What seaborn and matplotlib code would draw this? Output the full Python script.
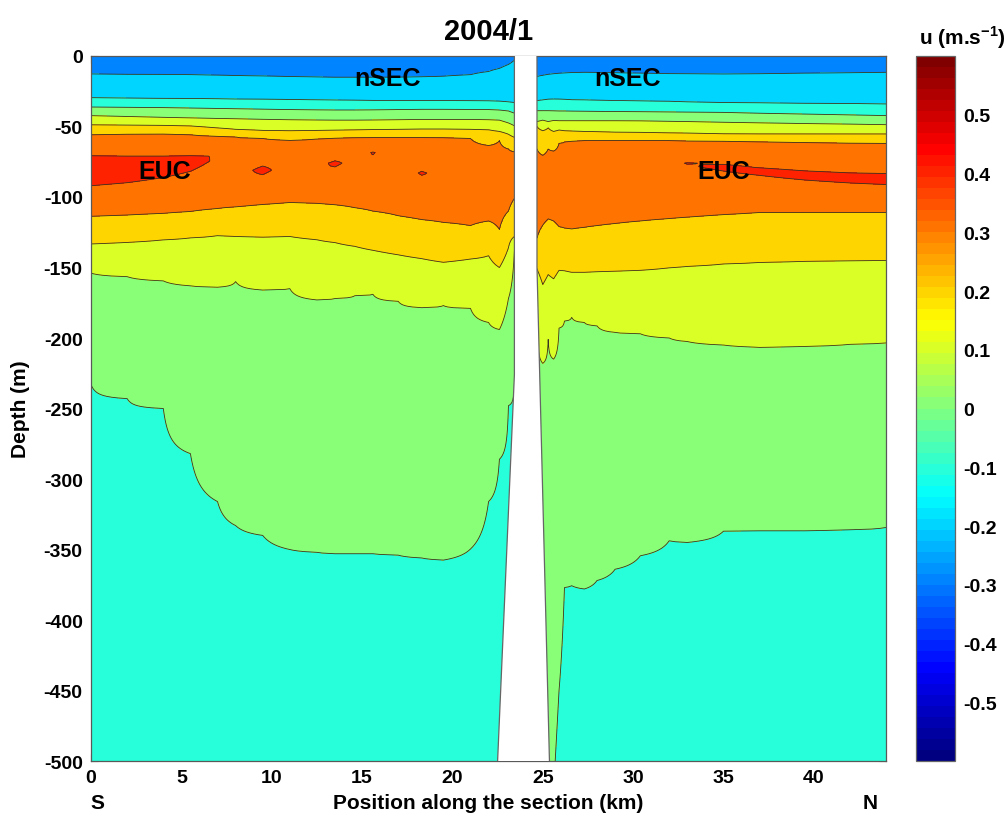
import numpy as np
import matplotlib
matplotlib.use("Agg")
import matplotlib.pyplot as plt
import seaborn as sns
from matplotlib.colors import LinearSegmentedColormap, Normalize
from matplotlib.cm import ScalarMappable

# positions of the profiles along the section (km), island gap between 23.4 and 24.7
x_km = [0, 2, 4, 5.5, 7, 8, 9.5, 11, 12.5, 13.5, 14.6, 15.6, 17, 18.3, 19.5, 21, 22, 22.6, 23.1, 23.43,
        24.68, 25.0, 25.3, 25.6, 25.9, 26.2, 26.6, 27.3, 28, 29, 30.4, 32, 33, 35, 37, 39.5, 42, 44]

# depth (m, positive down) of each isotach
iso_m02 = [12.8, 13, 13.1, 13.3, 13.6, 13.9, 14.2, 14.6, 14.9, 15.1, 15.1, 15.1, 15, 14.8, 14.4, 13.3, 11, 8.8, 6, 3,
           14.5, 13.8, 13, 12.6, 12.3, 12, 11.8, 11.6, 11.7, 11.9, 12.2, 12.5, 12.6, 12.8, 12.6, 12.2, 11.9, 11.6]
iso_m01 = [29.6, 29.9, 30.1, 30.2, 30.4, 30.5, 30.7, 30.9, 31.1, 31.3, 31.4, 31.5, 31.6, 31.7, 31.7, 31.8, 31.9, 32, 32.5, 33,
           31.7, 31.2, 30.7, 30.5, 30.6, 30.8, 31, 31.2, 31.4, 31.6, 31.9, 32.2, 32.5, 33, 33.3, 33.6, 33.8, 34]
iso_00_up = [36.2, 36.4, 36.6, 36.9, 37.2, 37.4, 37.7, 38, 38.2, 38.3, 38.3, 38.2, 38, 37.8, 37.8, 37.9, 38, 38.3, 39, 40.5,
             38.8, 38.8, 38.8, 38.9, 39, 39, 39.1, 39.2, 39.3, 39.4, 39.5, 39.7, 39.8, 40, 40.6, 41.2, 41.8, 42.3]
iso_01_up = [42.3, 42.9, 43.5, 43.9, 44.3, 44.5, 44.9, 45.2, 45.4, 45.5, 45.5, 45.4, 45.2, 45, 45, 45, 45.2, 45.5, 47.5, 49.5,
             46.5, 45.5, 46.5, 45.7, 45.9, 45.9, 45.9, 45.9, 45.9, 45.9, 46, 46.3, 46.5, 47, 47.4, 47.9, 48.3, 48.7]
iso_02_up = [48.8, 49, 49.2, 49.6, 51, 52, 52.8, 53, 52.8, 52.6, 52.4, 52.2, 52, 51.8, 51.8, 52, 52.3, 53.5, 55.5, 57.7,
             50, 53, 51, 53.5, 52.5, 53, 53.2, 53.5, 53.7, 54, 54.2, 54.5, 54.7, 55.2, 55.3, 55.3, 55.3, 55.3]
iso_03_up = [55.8, 55.5, 55.3, 55.8, 57, 57.4, 58.5, 59.8, 58.8, 58.2, 57.9, 57.8, 57.7, 57.7, 57.8, 58.5, 63.5, 60, 66, 68,
             66, 70.5, 66, 67.5, 62, 61, 60.5, 60, 59.8, 59.7, 59.8, 60, 60.2, 60.5, 60.8, 61.3, 61.7, 62]
euc_depth = [79.4, 78.6, 76.8, 74.5, 71, 86, 81, 74, 78, 76, 72, 68.5, 75, 83, 85, 85, 84, 85, 85, 85,
             90, 90, 88, 88, 88, 88, 88, 87, 86, 84, 80, 76, 76, 78.5, 81.5, 84.5, 86.5, 87.4]
euc_u = [0.458, 0.449, 0.437, 0.4255, 0.399, 0.39, 0.415, 0.39, 0.392, 0.41, 0.392, 0.404, 0.39, 0.405, 0.39, 0.38, 0.38, 0.37, 0.36, 0.35,
         0.36, 0.36, 0.365, 0.37, 0.37, 0.37, 0.375, 0.375, 0.38, 0.38, 0.385, 0.39, 0.402, 0.41, 0.412, 0.415, 0.417, 0.419]
iso_03_lo = [113.7, 112.8, 111.6, 110.3, 108.2, 107, 105.3, 103.9, 104.5, 105.5, 107.6, 110, 113.3, 116, 118, 120.3, 117, 123, 110, 101,
             129, 120, 115.5, 117, 121, 122, 122.7, 121.5, 120.3, 118.8, 117, 115.3, 114.3, 112.5, 111, 110.9, 110.9, 110.9]
iso_02_lo = [133.3, 132.2, 130.4, 129, 127.4, 128, 128.5, 128, 130.3, 132.3, 135, 137.8, 141, 143.7, 146.3, 144, 141.6, 150, 136, 128,
             151, 162, 155, 158, 152, 152.3, 153.4, 153.4, 153, 152.6, 152, 150.2, 149.2, 147.5, 146.4, 145.6, 145.2, 145]
iso_01_lo = [154, 156.5, 159.5, 163, 164, 160, 166, 165, 173, 172, 170, 169, 174, 178.5, 177, 179, 189, 194, 172, 138,
             188, 218, 201, 215, 193, 188, 185.3, 189, 191.3, 196, 197, 200, 202.5, 205, 206.6, 206, 204.5, 203.5]
iso_00_lo = [233, 243, 250, 282, 316, 333, 340, 350, 352, 353, 353, 353, 354, 356, 357.5, 349.6, 316, 286, 248, 232,
             560, 560, 540, 520, 450, 377, 375.6, 378, 372, 364, 354.4, 343.7, 345, 337, 336.6, 336.6, 336, 334.3]

# island (no data) edges
gap_left_depth = [0, 226, 500]
gap_left_x = [23.43, 23.43, 22.5]
gap_right_depth = [0, 150, 500]
gap_right_x = [24.68, 24.68, 25.37]

levels = np.round(np.arange(-0.6, 0.61, 0.1), 1)
cbar_ticks = np.round(np.arange(-0.5, 0.51, 0.1), 1)

# build the gridded field, one profile per position
z = np.linspace(0, 500, 1001)
field = np.zeros((len(z), len(x_km)))
for j in range(len(x_km)):
    zp = [-20, iso_m02[j], iso_m01[j], iso_00_up[j], iso_01_up[j], iso_02_up[j], iso_03_up[j],
          euc_depth[j], iso_03_lo[j], iso_02_lo[j], iso_01_lo[j], iso_00_lo[j], 700]
    up = [-0.3, -0.2, -0.1, 0.0, 0.1, 0.2, 0.3, euc_u[j], 0.3, 0.2, 0.1, 0.0, -0.08]
    field[:, j] = np.interp(z, zp, up)

# matlab style jet
jet = LinearSegmentedColormap.from_list(
    "mjet", [(0, (0, 0, 0.5)), (1/8, (0, 0, 1)), (3/8, (0, 1, 1)),
             (5/8, (1, 1, 0)), (7/8, (1, 0, 0)), (1, (0.5, 0, 0))], N=64)
norm = Normalize(-0.6, 0.6)
band_colors = [jet(norm(v)) for v in levels[:-1]]

sns.set_theme(style="white", rc={
    "xtick.direction": "in", "ytick.direction": "in",
    "xtick.top": True, "ytick.right": True,
    "xtick.bottom": True, "ytick.left": True,
    "axes.edgecolor": "0.35", "axes.linewidth": 0.9,
    "text.color": "black", "axes.labelcolor": "black",
    "xtick.color": "black", "ytick.color": "black",
    "axes.unicode_minus": False,
})
plt.rcParams["font.family"] = ["Liberation Sans", "DejaVu Sans"]
plt.rcParams["font.weight"] = "bold"
plt.rcParams["axes.labelweight"] = "bold"
plt.rcParams["axes.titleweight"] = "bold"
plt.rcParams["mathtext.fontset"] = "custom"
plt.rcParams["mathtext.bf"] = "Liberation Sans:bold"
plt.rcParams["mathtext.rm"] = "Liberation Sans:bold"

fig = plt.figure(figsize=(10.06, 8.2), dpi=100)
ax = fig.add_axes([0.0905, 0.0707, 0.7903, 0.8598])
cax = fig.add_axes([0.9105, 0.0707, 0.0388, 0.8598])

X = np.array(x_km)
Y = -z
ax.contourf(X, Y, field, levels=levels, colors=band_colors, zorder=1)
ax.contour(X, Y, field, levels=levels, colors="#3a3320", linewidths=0.6,
           negative_linestyles="solid", zorder=2)

gx = np.r_[gap_left_x, gap_right_x[::-1]]
gy = -np.r_[gap_left_depth, gap_right_depth[::-1]]
ax.fill(gx, gy, color="white", lw=0, zorder=3)
ax.plot(gap_left_x, -np.array(gap_left_depth), color="0.4", lw=0.9, zorder=4)
ax.plot(gap_right_x, -np.array(gap_right_depth), color="0.4", lw=0.9, zorder=4)

ax.set_xlim(0, 44)
ax.set_ylim(-500, 0)
ax.set_xticks(np.arange(0, 41, 5))
ax.set_yticks(np.arange(-500, 1, 50))
ax.tick_params(labelsize=14, length=5, width=0.8, color="0.3", pad=6)
for lab in ax.get_xticklabels() + ax.get_yticklabels():
    lab.set_fontweight("bold")

ax.set_title("2004/1", fontsize=21, pad=12)
ax.set_xlabel("Position along the section (km)", fontsize=15)
ax.xaxis.set_label_coords(0.5, -0.045)
ax.set_ylabel("Depth (m)", fontsize=15)
ax.yaxis.set_label_coords(-0.077, 0.5)

for tx, ty, s in [(16.4, -15.6, "nSEC"), (29.7, -15.6, "nSEC"), (4.1, -81.6, "EUC"), (35.0, -81.6, "EUC")]:
    ax.text(tx, ty, s, fontsize=18, fontweight="bold", ha="center", va="center", zorder=5)

fig.text(0.0964, 0.0207, "S", fontsize=15, fontweight="bold", ha="center", va="center")
fig.text(0.865, 0.0207, "N", fontsize=15, fontweight="bold", ha="center", va="center")

sm = ScalarMappable(norm=norm, cmap=jet)
cb = fig.colorbar(sm, cax=cax, ticks=cbar_ticks)
cb.ax.set_yticklabels([f"{t + 0.0:g}" for t in cbar_ticks])
cb.outline.set_edgecolor("0.4")
cax.tick_params(direction="in", left=True, right=True, length=5, color="0.3", labelsize=14, pad=6)
for lab in cax.get_yticklabels():
    lab.set_fontweight("bold")
fig.text(0.957, 0.9537, r"u (m.s$^{\mathbf{-1}}$)", fontsize=15, fontweight="bold", ha="center", va="center")

fig.savefig("out.png", dpi=100)
